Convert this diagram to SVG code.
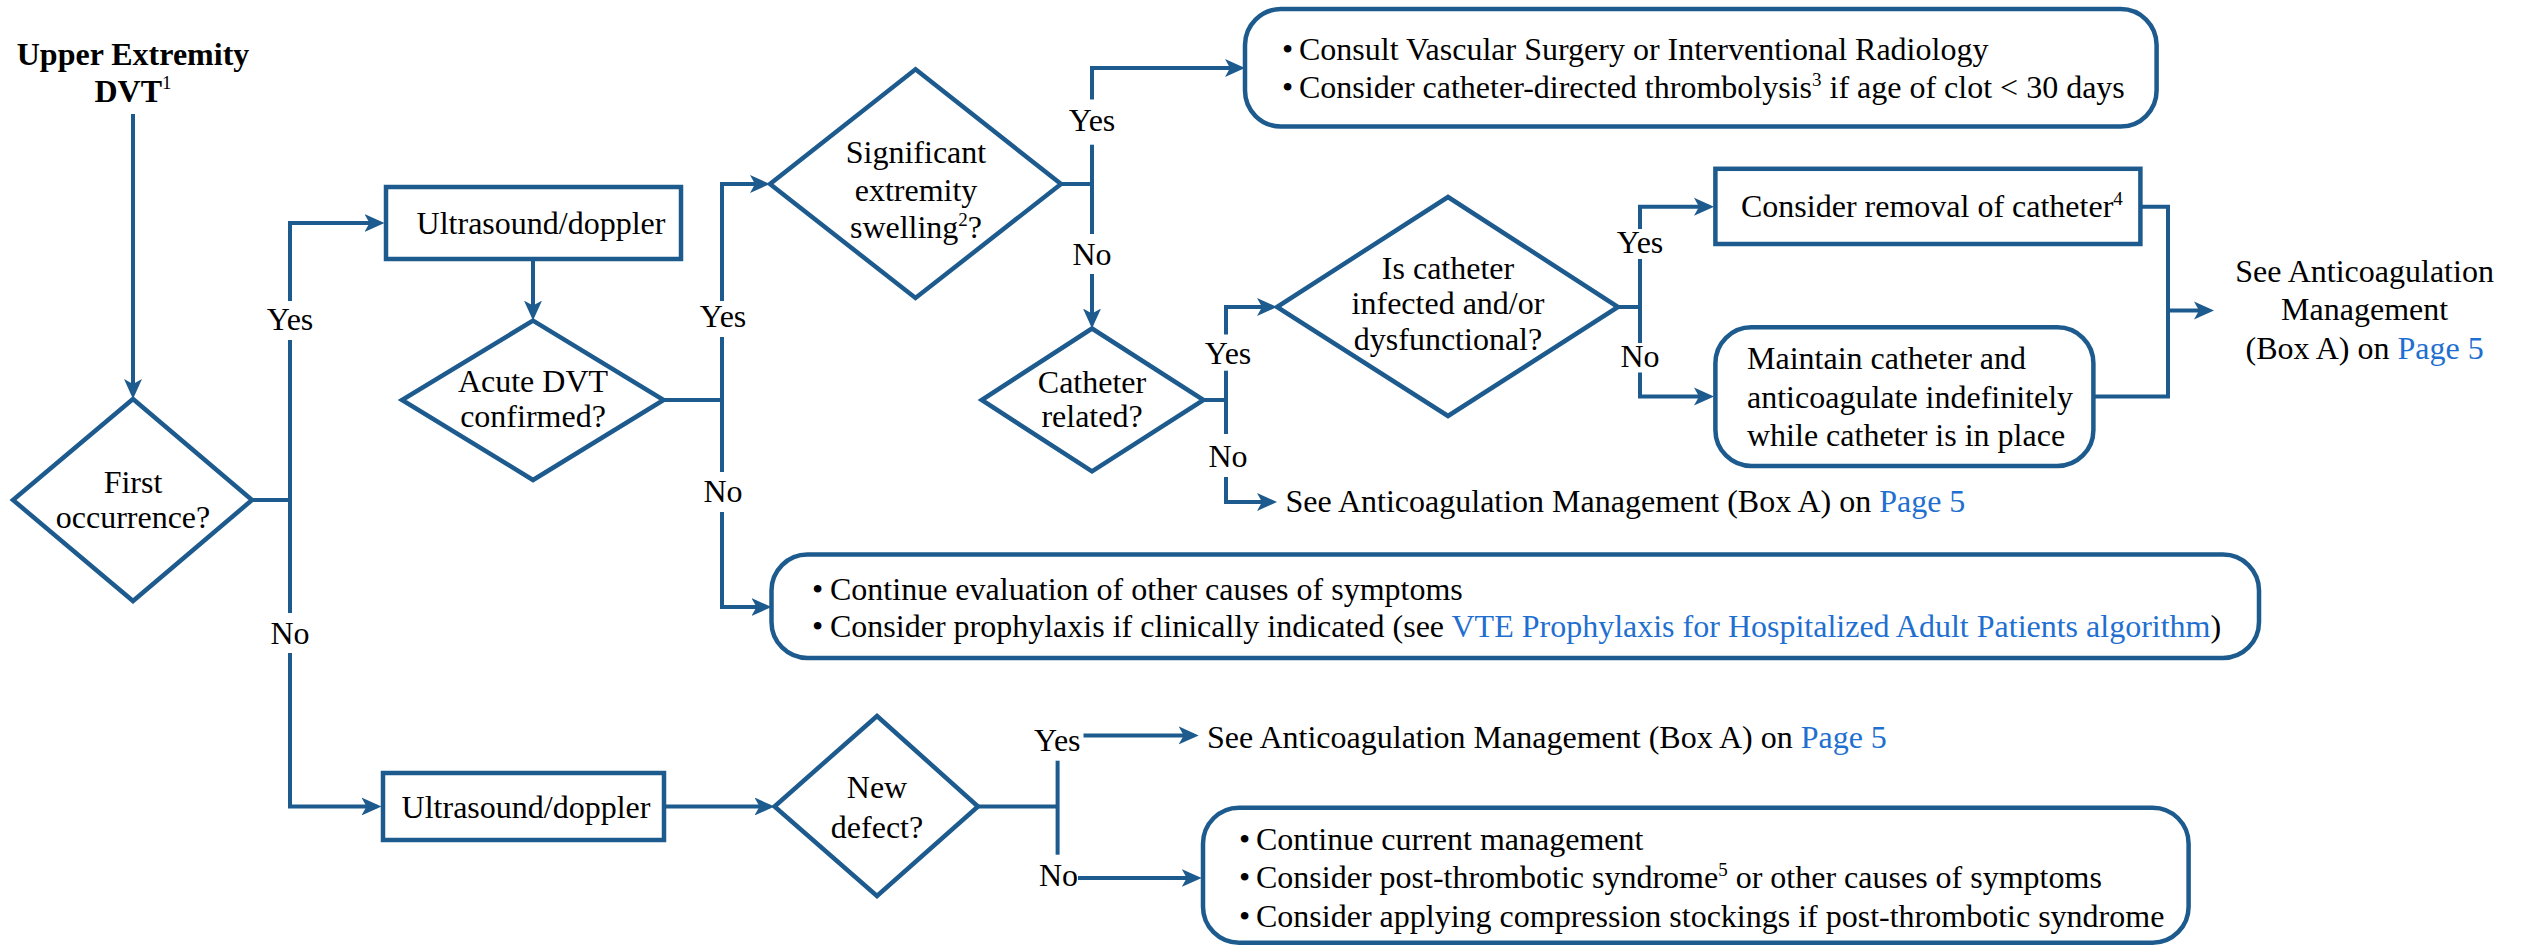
<svg xmlns="http://www.w3.org/2000/svg" width="2526" height="945" viewBox="0 0 2526 945">
<defs>
<style>
.ln{fill:none;stroke:#1d5b8e;stroke-width:4}
.nd{fill:#fff;stroke:#1d5b8e;stroke-width:4.5}
.t{font-family:"Liberation Serif","Times New Roman",serif;font-size:32px;fill:#000}
.c{text-anchor:middle}
.b{font-weight:bold}
.lk{fill:#1f6fd0}
.sup{font-size:19px}
</style>
<marker id="ar" markerUnits="userSpaceOnUse" markerWidth="20" markerHeight="20" viewBox="0 0 20 20" refX="15" refY="10" orient="auto">
<path d="M0,1 L20,10 L0,19 L5,10 z" fill="#1d5b8e"/>
</marker>
</defs>
<rect width="2526" height="945" fill="#fff"/>

<g id="connectors">
<path class="ln" d="M133,114 V394" marker-end="url(#ar)"/>
<path class="ln" d="M252,500 H290"/>
<path class="ln" d="M290,301 V223 H379.5" marker-end="url(#ar)"/>
<path class="ln" d="M290,340 V613"/>
<path class="ln" d="M290,653 V806.5 H376.5" marker-end="url(#ar)"/>
<path class="ln" d="M533,259 V315.6" marker-end="url(#ar)"/>
<path class="ln" d="M663.6,400 H722"/>
<path class="ln" d="M722,301 V184 H765" marker-end="url(#ar)"/>
<path class="ln" d="M722,337 V472"/>
<path class="ln" d="M722,512 V607 H766.5" marker-end="url(#ar)"/>
<path class="ln" d="M1061,184 H1092"/>
<path class="ln" d="M1092,99.5 V68 H1240" marker-end="url(#ar)"/>
<path class="ln" d="M1092,144.7 V234"/>
<path class="ln" d="M1092,274 V323.5" marker-end="url(#ar)"/>
<path class="ln" d="M1203.5,400 H1226"/>
<path class="ln" d="M1226,334.5 V307 H1272" marker-end="url(#ar)"/>
<path class="ln" d="M1226,370.7 V434"/>
<path class="ln" d="M1226,477 V502 H1272" marker-end="url(#ar)"/>
<path class="ln" d="M1618,307 H1640"/>
<path class="ln" d="M1640,229 V206.7 H1709" marker-end="url(#ar)"/>
<path class="ln" d="M1640,259 V343"/>
<path class="ln" d="M1640,372.5 V396.6 H1709" marker-end="url(#ar)"/>
<path class="ln" d="M2140.4,206.7 H2168 V396.6 H2093.4"/>
<path class="ln" d="M2168,310.4 H2209" marker-end="url(#ar)"/>
<path class="ln" d="M664,806.5 H769.5" marker-end="url(#ar)"/>
<path class="ln" d="M978,806.5 H1057.6"/>
<path class="ln" d="M1057.6,760.7 V854.7"/>
<path class="ln" d="M1083.5,735.4 H1193.7" marker-end="url(#ar)"/>
<path class="ln" d="M1078,878 H1196.7" marker-end="url(#ar)"/>
<text class="t c" x="290" y="330">Yes</text>
<text class="t c" x="290" y="644">No</text>
<text class="t c" x="723" y="327">Yes</text>
<text class="t c" x="723" y="502">No</text>
<text class="t c" x="1092" y="131.4">Yes</text>
<text class="t c" x="1092" y="265">No</text>
<text class="t c" x="1228" y="363.5">Yes</text>
<text class="t c" x="1228" y="466.5">No</text>
<text class="t c" x="1640" y="253">Yes</text>
<text class="t c" x="1640" y="366.5">No</text>
<text class="t" x="1034" y="750.5">Yes</text>
<text class="t" x="1039" y="886">No</text>
</g>

<g id="start">
<text class="t b c" x="133" y="65">Upper Extremity</text>
<text class="t b c" x="133" y="102">DVT<tspan class="sup" font-weight="normal" dy="-13">1</tspan></text>
</g>

<g id="first-occurrence">
<polygon class="nd" points="133,399 252,500 133,601 13,500"/>
<text class="t c" x="133" y="493">First</text>
<text class="t c" x="133" y="528">occurrence?</text>
</g>

<g id="ultrasound-1">
<rect class="nd" x="386" y="187" width="295" height="72"/>
<text class="t c" x="541" y="234">Ultrasound/doppler</text>
</g>

<g id="acute-dvt">
<polygon class="nd" points="533,320.6 663.6,400 533,480 402,400"/>
<text class="t c" x="533" y="392">Acute DVT</text>
<text class="t c" x="533" y="427">confirmed?</text>
</g>

<g id="swelling">
<polygon class="nd" points="915.5,69.3 1061,184 915.5,298 770,184"/>
<text class="t c" x="916" y="162.7">Significant</text>
<text class="t c" x="916" y="200.7">extremity</text>
<text class="t c" x="916" y="238">swelling<tspan class="sup" dy="-12">2</tspan><tspan dy="12">?</tspan></text>
</g>

<g id="consult">
<rect class="nd" x="1245" y="9" width="911.6" height="117.6" rx="36"/>
<text class="t" x="1282" y="60">•</text>
<text class="t" x="1299" y="60">Consult Vascular Surgery or Interventional Radiology</text>
<text class="t" x="1282" y="97.6">•</text>
<text class="t" x="1299" y="97.6">Consider catheter-directed thrombolysis<tspan class="sup" dy="-12">3</tspan><tspan dy="12"> if age of clot &lt; 30 days</tspan></text>
</g>

<g id="catheter-related">
<polygon class="nd" points="1092,328.5 1203.5,400 1092,471.4 981.7,400"/>
<text class="t c" x="1092" y="393">Catheter</text>
<text class="t c" x="1092" y="427">related?</text>
</g>

<g id="see-anticoag-1">
<text class="t" x="1285.5" y="512">See Anticoagulation Management (Box A) on <tspan class="lk">Page 5</tspan></text>
</g>

<g id="catheter-infected">
<polygon class="nd" points="1448,197 1618,307 1448,416 1277,307"/>
<text class="t c" x="1448" y="279">Is catheter</text>
<text class="t c" x="1448" y="314">infected and/or</text>
<text class="t c" x="1448" y="349.6">dysfunctional?</text>
</g>

<g id="remove-catheter">
<rect class="nd" x="1715.4" y="168.8" width="425" height="75.2"/>
<text class="t" x="1741" y="217">Consider removal of catheter<tspan class="sup" dy="-12">4</tspan></text>
</g>

<g id="maintain-catheter">
<rect class="nd" x="1715.4" y="327.3" width="378" height="138.7" rx="36"/>
<text class="t" x="1747" y="369">Maintain catheter and</text>
<text class="t" x="1747" y="408">anticoagulate indefinitely</text>
<text class="t" x="1747" y="446">while catheter is in place</text>
</g>

<g id="see-anticoag-2">
<text class="t c" x="2364.6" y="282">See Anticoagulation</text>
<text class="t c" x="2364.6" y="319.5">Management</text>
<text class="t c" x="2364.6" y="358.6">(Box A) on <tspan class="lk">Page 5</tspan></text>
</g>

<g id="continue-evaluation">
<rect class="nd" x="771.5" y="554.5" width="1487.5" height="103.5" rx="36"/>
<text class="t" x="812" y="600">•</text>
<text class="t" x="830" y="600">Continue evaluation of other causes of symptoms</text>
<text class="t" x="812" y="637">•</text>
<text class="t" x="830" y="637">Consider prophylaxis if clinically indicated (see <tspan class="lk">VTE Prophylaxis for Hospitalized Adult Patients algorithm</tspan>)</text>
</g>

<g id="ultrasound-2">
<rect class="nd" x="383" y="773" width="281" height="67"/>
<text class="t c" x="526" y="818">Ultrasound/doppler</text>
</g>

<g id="new-defect">
<polygon class="nd" points="877,716 978,806.5 877,896 774.5,806.5"/>
<text class="t c" x="877" y="798">New</text>
<text class="t c" x="877" y="837.5">defect?</text>
</g>

<g id="see-anticoag-3">
<text class="t" x="1207" y="747.5">See Anticoagulation Management (Box A) on <tspan class="lk">Page 5</tspan></text>
</g>

<g id="continue-management">
<rect class="nd" x="1203" y="807.7" width="985.6" height="135" rx="36"/>
<text class="t" x="1239" y="850">•</text>
<text class="t" x="1256" y="850">Continue current management</text>
<text class="t" x="1239" y="888">•</text>
<text class="t" x="1256" y="888">Consider post-thrombotic syndrome<tspan class="sup" dy="-12">5</tspan><tspan dy="12"> or other causes of symptoms</tspan></text>
<text class="t" x="1239" y="926.5">•</text>
<text class="t" x="1256" y="926.5">Consider applying compression stockings if post-thrombotic syndrome</text>
</g>
</svg>
